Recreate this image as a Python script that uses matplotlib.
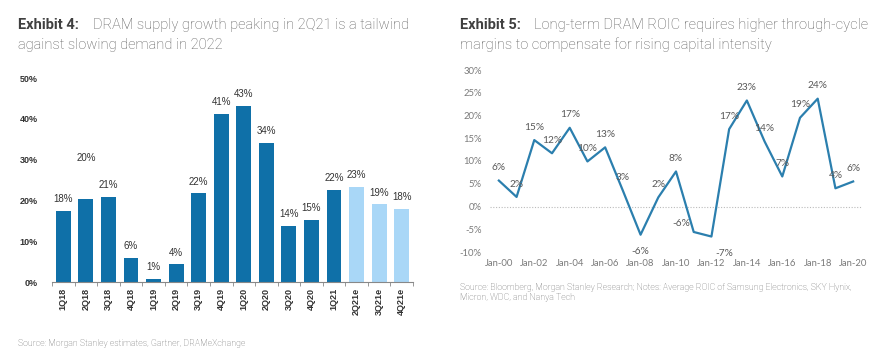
import matplotlib
matplotlib.use("Agg")
import matplotlib.pyplot as plt
import numpy as np

# Exhibit 4 data
quarters = ["1Q18", "2Q18", "3Q18", "4Q18", "1Q19", "2Q19", "3Q19", "4Q19",
            "1Q20", "2Q20", "3Q20", "4Q20", "1Q21", "2Q21e", "3Q21e", "4Q21e"]
supply_growth = [17.5, 20.3, 20.8, 5.9, 0.8, 4.3, 21.7, 41.2,
                 43.2, 34.0, 13.8, 15.1, 22.5, 23.2, 19.0, 17.8]
supply_labels = ["18%", "20%", "21%", "6%", "1%", "4%", "22%", "41%",
                 "43%", "34%", "14%", "15%", "22%", "23%", "19%", "18%"]
is_estimate = [False] * 13 + [True] * 3

# Exhibit 5 data
years = list(range(2000, 2021))
roic = [5.7, 2.1, 14.6, 11.7, 17.3, 9.9, 13.0, 3.5, -6.2, 2.0, 7.7,
        -5.6, -6.6, 17.0, 23.3, 14.3, 6.6, 19.5, 23.7, 4.0, 5.5]
roic_labels = ["6%", "2%", "15%", "12%", "17%", "10%", "13%", "3%", "-6%", "2%", "8%",
               "-6%", "-7%", "17%", "23%", "14%", "7%", "19%", "24%", "4%", "6%"]
year_ticks = ["Jan-%02d" % (y % 100) for y in years[::2]]

W, H = 884, 362
fig = plt.figure(figsize=(W / 100, H / 100), dpi=100)
fig.patch.set_facecolor("white")


def ax_px(x0, y0, x1, y1):
    # pixel box (top-left origin) -> axes
    return fig.add_axes([x0 / W, 1 - y1 / H, (x1 - x0) / W, (y1 - y0) / H])


title_font = "Roboto"
dark_blue = "#0f70a8"
light_blue = "#a9d7f7"

# ---------- titles ----------
def title(x_bold, x_text, lines, label):
    fig.text(x_bold / W, 1 - 29 / H, label, fontsize=10.5, fontweight="bold",
             family=title_font, color="#404040", va="baseline")
    fig.text(x_text / W, 1 - 29 / H, lines[0], fontsize=10.5, fontweight="light",
             family=title_font, color="#5a5a5a", va="baseline")
    fig.text(x_bold / W, 1 - 49 / H, lines[1], fontsize=10.5, fontweight="light",
             family=title_font, color="#5a5a5a", va="baseline")


title(18, 93, ["DRAM supply growth peaking in 2Q21 is a tailwind",
               "against slowing demand in 2022"], "Exhibit 4:")
title(460, 534, ["Long-term DRAM ROIC requires higher through-cycle",
                 "margins to compensate for rising capital intensity"], "Exhibit 5:")

# ---------- Exhibit 4: bars ----------
ax1 = ax_px(52, 78, 413, 282)
x = np.arange(len(quarters))
colors = [light_blue if e else dark_blue for e in is_estimate]
ax1.bar(x, supply_growth, width=0.66, color=colors, zorder=2)
for i, (v, lab) in enumerate(zip(supply_growth, supply_labels)):
    off = 26 if i == 1 else 5
    ax1.annotate(lab, (i, v), xytext=(0, off), textcoords="offset points",
                 ha="center", va="bottom", fontsize=7, family="Liberation Sans",
                 color="#333333")
ax1.set_xlim(-0.5, len(quarters) - 0.5)
ax1.set_ylim(0, 50)
ax1.set_yticks(np.arange(0, 51, 10))
ax1.set_yticklabels(["%d%%" % t for t in range(0, 51, 10)])
ax1.set_xticks(x)
ax1.set_xticklabels(quarters, rotation=90)
ax1.set_xticks(np.arange(-0.5, len(quarters)), minor=True)
for lab in ax1.get_xticklabels() + ax1.get_yticklabels():
    lab.set_family("Liberation Sans")
    lab.set_fontweight("bold")
    lab.set_fontsize(6.5)
    lab.set_color("#333333")
ax1.tick_params(axis="x", which="major", length=0, pad=4)
ax1.tick_params(axis="x", which="minor", length=3, color="#888888", width=0.6)
ax1.tick_params(axis="y", length=0, pad=10)
for s in ["top", "right", "left"]:
    ax1.spines[s].set_visible(False)
ax1.spines["bottom"].set_color("#888888")
ax1.spines["bottom"].set_linewidth(0.8)

fig.text(18 / W, 1 - 343 / H, "Source: Morgan Stanley estimates, Gartner, DRAMeXchange",
         fontsize=6.3, family=title_font, fontweight="light", color="#666666", va="center")

# ---------- Exhibit 5: line ----------
ax2 = ax_px(490, 70, 862, 252)
xi = np.arange(len(years))
ax2.axhline(0, color="#bbbbbb", lw=0.8, ls=(0, (1, 1.5)), zorder=1)
ax2.plot(xi, roic, color="#2b7fae", lw=1.6, zorder=2)
# label offsets (points): default above the point
offsets = {8: (0, -12), 11: (-9, 3), 12: (9, -12)}
for i, (v, lab) in enumerate(zip(roic, roic_labels)):
    dx, dy = offsets.get(i, (0, 6))
    ax2.annotate(lab, (i, v), xytext=(dx, dy), textcoords="offset points",
                 ha="center", va="bottom" if dy > 0 else "center",
                 fontsize=7.3, family="Lato", color="#595959", zorder=3)
ax2.set_xlim(-0.5, len(years) - 0.5)
ax2.set_ylim(-10, 30)
ax2.set_yticks(np.arange(-10, 31, 5))
ax2.set_yticklabels(["%d%%" % t for t in range(-10, 31, 5)])
ax2.set_xticks(xi[::2])
ax2.set_xticklabels(year_ticks)
for lab in ax2.get_xticklabels() + ax2.get_yticklabels():
    lab.set_family("Lato")
    lab.set_fontsize(6.8)
    lab.set_color("#7a7a7a")
ax2.tick_params(length=0)
ax2.tick_params(axis="y", pad=6)
ax2.tick_params(axis="x", pad=5)
for s in ax2.spines.values():
    s.set_visible(False)

fig.text(460 / W, 1 - 287 / H,
         "Source: Bloomberg, Morgan Stanley Research; Notes: Average ROIC of Samsung Electronics, SKY Hynix,",
         fontsize=6.3, family=title_font, fontweight="light", color="#666666", va="center")
fig.text(460 / W, 1 - 298 / H, "Micron, WDC, and Nanya Tech",
         fontsize=6.3, family=title_font, fontweight="light", color="#666666", va="center")

fig.savefig("out.png", dpi=100, facecolor="white")
